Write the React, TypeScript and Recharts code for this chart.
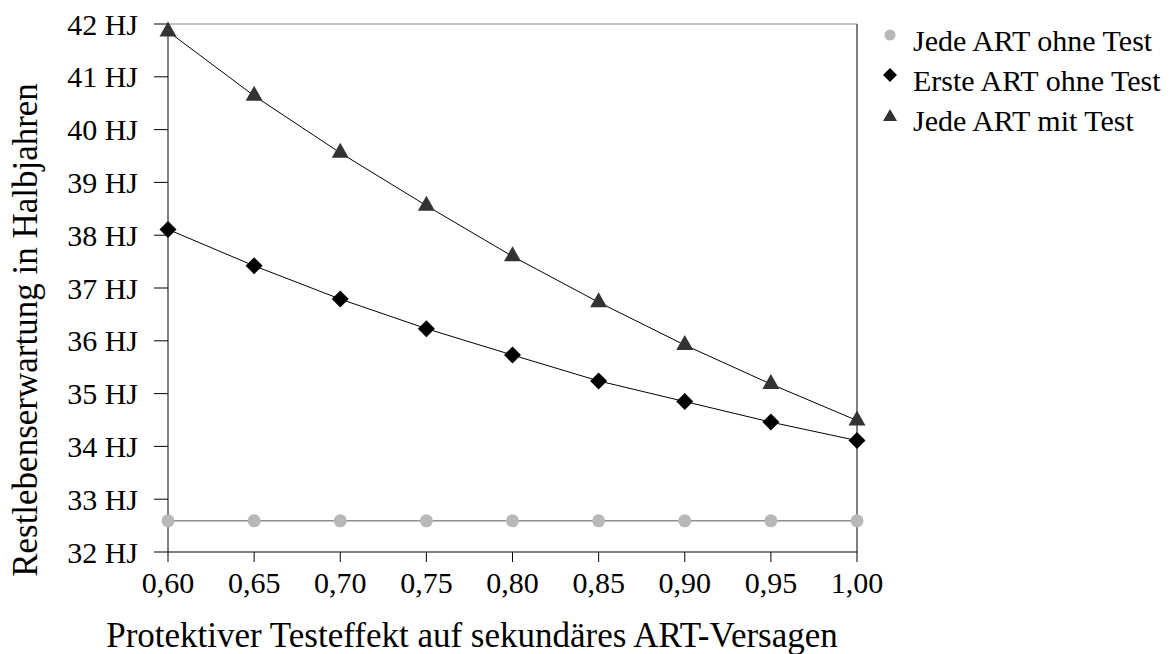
import { LineChart, Line, XAxis, YAxis, ReferenceLine } from 'recharts';

const xValues = [0.6, 0.65, 0.7, 0.75, 0.8, 0.85, 0.9, 0.95, 1.0];
const jedeOhneTest = [32.59, 32.59, 32.59, 32.59, 32.59, 32.59, 32.59, 32.59, 32.59];
const ersteOhneTest = [38.11, 37.42, 36.79, 36.23, 35.73, 35.24, 34.85, 34.46, 34.11];
const jedeMitTest = [41.86, 40.64, 39.56, 38.56, 37.6, 36.73, 35.92, 35.18, 34.49];
const yTicks = [32, 33, 34, 35, 36, 37, 38, 39, 40, 41, 42];

const data = xValues.map((x, i) => ({
  x,
  jede: jedeOhneTest[i],
  erste: ersteOhneTest[i],
  mit: jedeMitTest[i],
}));

const FONT = '"Liberation Serif", "Times New Roman", serif';

const Diamond = (props: any) => {
  const { cx, cy } = props;
  if (cx == null || cy == null) return null;
  const r = 8.5;
  return <path d={`M${cx},${cy - r}L${cx + r},${cy}L${cx},${cy + r}L${cx - r},${cy}Z`} fill="#000" />;
};

const Triangle = (props: any) => {
  const { cx, cy } = props;
  if (cx == null || cy == null) return null;
  const w = 8.5;
  return <path d={`M${cx},${cy - 10}L${cx + w},${cy + 5}L${cx - w},${cy + 5}Z`} fill="#333" />;
};

const Dot = (props: any) => {
  const { cx, cy } = props;
  if (cx == null || cy == null) return null;
  return <circle cx={cx} cy={cy} r={6.5} fill="#b8b8b8" />;
};

const legendItems = [
  { label: 'Jede ART ohne Test', shape: 'circle' },
  { label: 'Erste ART ohne Test', shape: 'diamond' },
  { label: 'Jede ART mit Test', shape: 'triangle' },
];

function LegendBox() {
  return (
    <div style={{ position: 'absolute', left: 878, top: 24, fontFamily: FONT, fontSize: 30, color: '#000' }}>
      {legendItems.map((it) => (
        <div key={it.label} style={{ display: 'flex', alignItems: 'flex-start', height: 40, lineHeight: '34px' }}>
          <svg width={24} height={30} style={{ marginRight: 11, marginTop: 2 }}>
            {it.shape === 'circle' && <circle cx={12} cy={9} r={5.5} fill="#b8b8b8" />}
            {it.shape === 'diamond' && <path d="M12,2L19,9L12,16L5,9Z" fill="#000" />}
            {it.shape === 'triangle' && <path d="M12,3L19,15L5,15Z" fill="#333" />}
          </svg>
          <span>{it.label}</span>
        </div>
      ))}
    </div>
  );
}

const YTitle = () => (
  <text
    x={37}
    y={330}
    transform="rotate(-90, 37, 330)"
    textAnchor="middle"
    fill="#000"
    fontSize={35}
    fontFamily={FONT}
  >
    Restlebenserwartung in Halbjahren
  </text>
);

const XTitle = () => (
  <text x={472} y={647} textAnchor="middle" fill="#000" fontSize={35} fontFamily={FONT}>
    Protektiver Testeffekt auf sekundäres ART-Versagen
  </text>
);

export default function App() {
  return (
    <div style={{ position: 'absolute', left: 0, top: 0, width: 1170, height: 654, background: '#fff' }}>
      <LineChart width={1170} height={654} data={data} margin={{ top: 24, right: 313, bottom: 0, left: 0 }}>
        <XAxis
          dataKey="x"
          type="number"
          domain={[0.6, 1.0]}
          ticks={xValues}
          tickFormatter={(v: number) => v.toFixed(2).replace('.', ',')}
          height={102}
          tickSize={10}
          tickMargin={10}
          stroke="#000"
          tick={{ fill: '#000', fontSize: 30, fontFamily: FONT }}
          label={<XTitle />}
        />
        <YAxis
          type="number"
          domain={[32, 42]}
          ticks={yTicks}
          tickFormatter={(v: number) => `${v} HJ`}
          width={168}
          tickSize={14}
          tickMargin={16}
          stroke="#000"
          tick={{ fill: '#000', fontSize: 30, fontFamily: FONT }}
          label={<YTitle />}
        />
        <ReferenceLine y={42} stroke="#888" />
        <ReferenceLine x={1.0} stroke="#000" />
        <Line dataKey="jede" stroke="#555" strokeWidth={1} dot={<Dot />} isAnimationActive={false} />
        <Line dataKey="erste" stroke="#000" strokeWidth={1} dot={<Diamond />} isAnimationActive={false} />
        <Line dataKey="mit" stroke="#000" strokeWidth={1} dot={<Triangle />} isAnimationActive={false} />
      </LineChart>
      <LegendBox />
    </div>
  );
}
